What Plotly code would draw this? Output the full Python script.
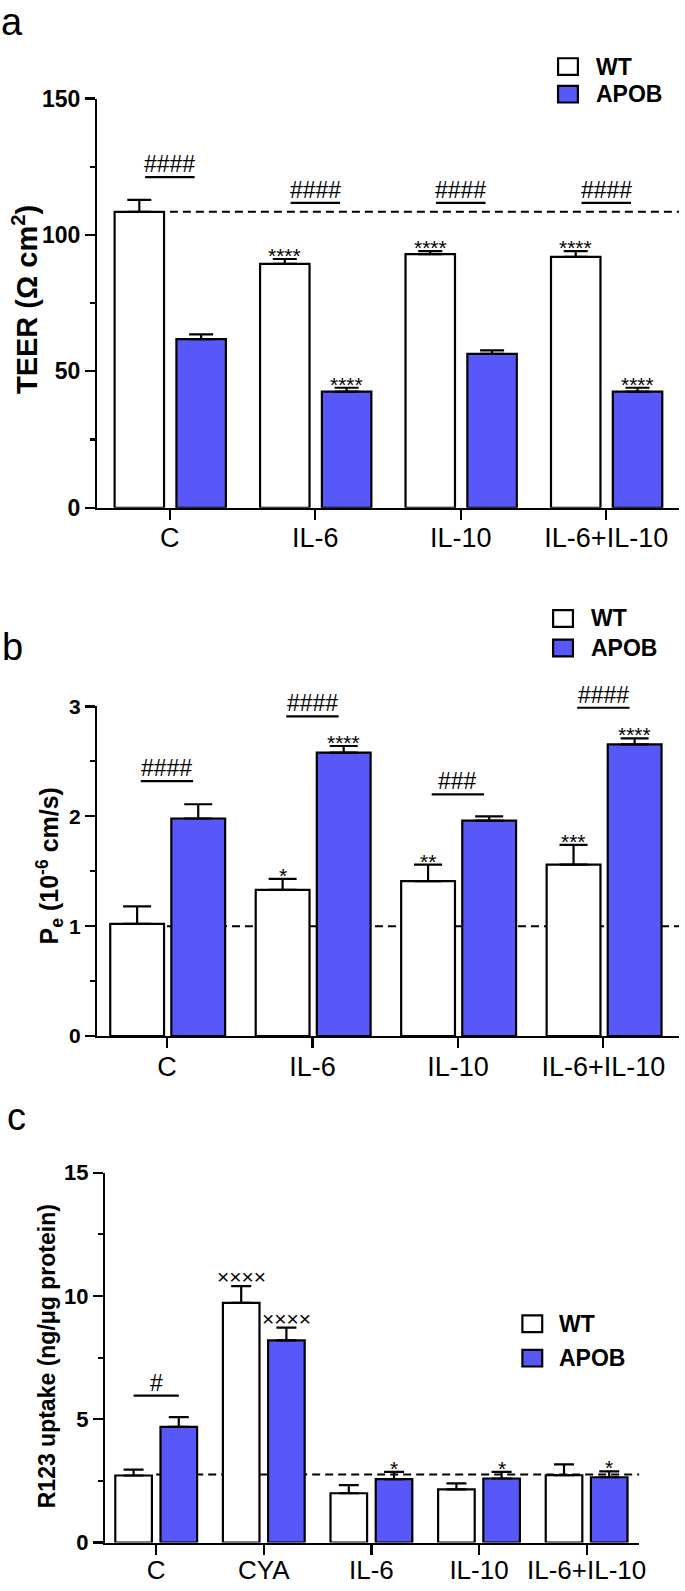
import plotly.graph_objects as go

W, H = 685, 1591
FONT = "Liberation Sans, Arial, Helvetica, sans-serif"
BLUE = "#5858F8"

# ---------------- panel a : TEER ----------------
a_cats = ["C", "IL-6", "IL-10", "IL-6+IL-10"]
a_wt = [108.5, 89.4, 93.0, 92.0]
a_wt_err = [4.4, 1.8, 1.1, 2.1]
a_apob = [61.8, 42.6, 56.4, 42.6]
a_apob_err = [1.8, 1.4, 1.3, 1.4]
a_wt_sig = ["", "****", "****", "****"]
a_apob_sig = ["", "****", "", "****"]
a_pair_sig = ["####", "####", "####", "####"]
a_pair_level = [121.2, 111.8, 111.8, 111.8]
a_ref = 108.5
a_ticks = [0, 50, 100, 150]

# ---------------- panel b : Pe ----------------
b_cats = ["C", "IL-6", "IL-10", "IL-6+IL-10"]
b_wt = [1.02, 1.33, 1.41, 1.56]
b_wt_err = [0.16, 0.10, 0.15, 0.18]
b_apob = [1.98, 2.58, 1.96, 2.655]
b_apob_err = [0.13, 0.06, 0.04, 0.055]
b_wt_sig = ["", "*", "**", "***"]
b_apob_sig = ["", "****", "", "****"]
b_pair_sig = ["####", "####", "###", "####"]
b_pair_level = [2.32, 2.91, 2.20, 2.99]
b_ref = 1.0
b_ticks = [0, 1, 2, 3]

# ---------------- panel c : R123 uptake ----------------
c_cats = ["C", "CYA", "IL-6", "IL-10", "IL-6+IL-10"]
c_wt = [2.72, 9.72, 2.0, 2.16, 2.73]
c_wt_err = [0.24, 0.68, 0.33, 0.24, 0.44]
c_apob = [4.69, 8.2, 2.57, 2.6, 2.65]
c_apob_err = [0.40, 0.52, 0.30, 0.27, 0.24]
c_wt_sig = ["", "××××", "", "", ""]
c_apob_sig = ["", "××××", "*", "*", "*"]
c_pair_sig = ["#", "", "", "", ""]
c_pair_level = [5.96, None, None, None, None]
c_ref = 2.76
c_ticks = [0, 5, 10, 15]

series_names = ["WT", "APOB"]
series_fill = ["white", BLUE]


def px_x(p):
    return p / W


def px_y(p):
    return 1 - p / H


panels = [
    dict(label="a", cats=a_cats, wt=a_wt, wt_err=a_wt_err, apob=a_apob, apob_err=a_apob_err,
         wt_sig=a_wt_sig, apob_sig=a_apob_sig, pair_sig=a_pair_sig, pair_level=a_pair_level,
         ref=a_ref, ticks=a_ticks, minor=25,
         xdom=(98, 685), ydom=(87, 503), xr=[-0.5, 3.5], bw=0.34, offs=(-0.38, 0.045), cap=12,
         tickfs=23, xtickfs=27, xstand=-5, title="TEER (Ω cm<sup>2</sup>)", titlefs=29,
         titlepos=(25, 291), uhw=0.17, labpos=(12, 9), leg=(563, 46, 28, 599)),
    dict(label="b", cats=b_cats, wt=b_wt, wt_err=b_wt_err, apob=b_apob, apob_err=b_apob_err,
         wt_sig=b_wt_sig, apob_sig=b_apob_sig, pair_sig=b_pair_sig, pair_level=b_pair_level,
         ref=b_ref, ticks=b_ticks, minor=0.5,
         xdom=(98, 685), ydom=(705, 1040), xr=[-0.48, 3.52], bw=0.37, offs=(-0.39, 0.03), cap=14,
         tickfs=21, xtickfs=27, xstand=-5, title="P<sub>e</sub> (10<sup>-6</sup> cm/s)", titlefs=25,
         titlepos=(50, 867), uhw=0.18, labpos=(13, 645), leg=(558, 607, 30, 594)),
    dict(label="c", cats=c_cats, wt=c_wt, wt_err=c_wt_err, apob=c_apob, apob_err=c_apob_err,
         wt_sig=c_wt_sig, apob_sig=c_apob_sig, pair_sig=c_pair_sig, pair_level=c_pair_level,
         ref=c_ref, ticks=c_ticks, minor=2.5,
         xdom=(106, 645), ydom=(1179, 1555), xr=[-0.475, 4.49], bw=0.34, offs=(-0.38, 0.04), cap=10,
         tickfs=22, xtickfs=26, xstand=-7, title="R123 uptake (ng/μg protein)", titlefs=23,
         titlepos=(47, 1366), uhw=0.21, labpos=(17, 1122), leg=(527, 1324, 35, 562)),
]

fig = go.Figure()
layout = dict(
    width=W, height=H, margin=dict(l=0, r=0, t=0, b=0),
    paper_bgcolor="white", plot_bgcolor="white", showlegend=False,
    barmode="overlay", font=dict(family=FONT, color="black"),
)
shapes = []
annotations = []

for k, p in enumerate(panels):
    sfx = "" if k == 0 else str(k + 1)
    xa, ya = "x" + sfx, "y" + sfx
    n = len(p["cats"])
    ymax = p["ticks"][-1]

    for s, (vals, errs, sigs) in enumerate([(p["wt"], p["wt_err"], p["wt_sig"]),
                                             (p["apob"], p["apob_err"], p["apob_sig"])]):
        fig.add_trace(go.Bar(
            x=p["cats"], y=vals, name=series_names[s], xaxis=xa, yaxis=ya,
            width=p["bw"], offset=p["offs"][s],
            marker=dict(color=series_fill[s], line=dict(color="black", width=2.2)),
            error_y=dict(type="data", symmetric=False, array=errs, arrayminus=[0] * n,
                         color="black", thickness=2.2, width=p["cap"]),
            hoverinfo="skip",
        ))
        centre = p["offs"][s] + p["bw"] / 2
        for i in range(n):
            if sigs[i]:
                is_star = "*" in sigs[i]
                annotations.append(dict(
                    x=i + centre, y=vals[i] + errs[i], xref=xa, yref=ya,
                    text=sigs[i], showarrow=False, yanchor="bottom",
                    yshift=-10 if is_star else -4,
                    font=dict(size=21, family=FONT, color="black"),
                ))

    # pair comparison (#) with underline
    for i in range(n):
        if p["pair_sig"][i]:
            lvl = p["pair_level"][i]
            shapes.append(dict(type="line", xref=xa, yref=ya, x0=i - p["uhw"], x1=i + p["uhw"],
                               y0=lvl, y1=lvl, line=dict(color="black", width=2.2)))
            annotations.append(dict(
                x=i, y=lvl, xref=xa, yref=ya, text=p["pair_sig"][i], showarrow=False,
                yanchor="bottom", yshift=-2,
                font=dict(size=23, family=FONT, color="black"),
            ))

    # reference (control) dashed line
    shapes.append(dict(type="line", xref=xa, yref=ya, x0=0, x1=p["xr"][1], y0=p["ref"], y1=p["ref"],
                       layer="below", line=dict(color="black", width=2, dash="8px,5px")))

    layout["xaxis" + sfx] = dict(
        domain=[px_x(p["xdom"][0]), px_x(p["xdom"][1])], anchor=ya, type="category",
        range=p["xr"], showline=True, linecolor="black", linewidth=2.2,
        ticks="outside", ticklen=10, tickwidth=2.2, tickcolor="black",
        ticklabelstandoff=p["xstand"],
        tickfont=dict(size=p["xtickfs"], family=FONT, color="black"),
        showgrid=False, zeroline=False, fixedrange=True,
    )
    layout["yaxis" + sfx] = dict(
        domain=[px_y(p["ydom"][1]), px_y(p["ydom"][0])], anchor=xa,
        range=[0, ymax], tickvals=p["ticks"], showline=True, linecolor="black", linewidth=2.2,
        ticks="outside", ticklen=10, tickwidth=2.2, tickcolor="black",
        tickfont=dict(size=p["tickfs"], family=FONT, color="black", weight="bold"),
        minor=dict(dtick=p["minor"], ticklen=5, tickwidth=2.2, tickcolor="black", ticks="outside",
                   showgrid=False),
        showgrid=False, zeroline=False, fixedrange=True,
    )

    # y-axis title
    annotations.append(dict(
        x=px_x(p["titlepos"][0]), y=px_y(p["titlepos"][1]), xref="paper", yref="paper",
        text=p["title"], textangle=-90, showarrow=False, xanchor="center", yanchor="middle",
        font=dict(size=p["titlefs"], family=FONT, color="black", weight="bold"),
    ))
    # panel letter
    annotations.append(dict(
        x=px_x(p["labpos"][0]), y=px_y(p["labpos"][1]), xref="paper", yref="paper",
        text=p["label"], showarrow=False, xanchor="center", yanchor="middle",
        font=dict(size=38, family=FONT, color="black"),
    ))
    # legend
    lx, ly, dy, tx = p["leg"]
    for s in range(2):
        top = ly + s * dy
        shapes.append(dict(type="rect", xref="paper", yref="paper",
                           x0=px_x(lx), x1=px_x(lx + 20), y0=px_y(top + 17), y1=px_y(top),
                           fillcolor=series_fill[s], line=dict(color="black", width=2.2)))
        annotations.append(dict(
            x=px_x(tx), y=px_y(top + 8.5), xref="paper", yref="paper", text=series_names[s],
            showarrow=False, xanchor="left", yanchor="middle",
            font=dict(size=23, family=FONT, color="black", weight="bold"),
        ))

layout["shapes"] = shapes
layout["annotations"] = annotations
fig.update_layout(**layout)
fig.write_html("out.html", config={"displayModeBar": False, "staticPlot": True},
               post_script="document.body.style.margin='0';document.body.style.padding='0';")
